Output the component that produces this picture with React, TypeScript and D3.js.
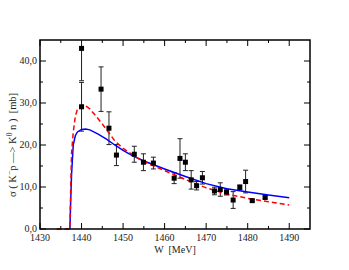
import React from "react";
import * as d3 from "d3";

const W_EXP = [1440, 1440, 1444.7, 1446.6, 1448.4, 1452.7, 1454.9, 1457.3, 1462.3, 1463.7, 1465.0, 1466.4, 1467.7, 1469.1, 1472.0, 1473.4, 1474.9, 1476.5, 1478.1, 1479.5, 1481.1, 1484.2];
const SIG_EXP = [43.0, 29.1, 33.3, 24.0, 17.6, 17.8, 15.9, 15.7, 12.1, 16.8, 15.9, 11.7, 10.3, 12.2, 9.05, 9.4, 8.8, 6.9, 9.9, 11.3, 6.75, 7.5];
const ERR_EXP = [7.7, 5.8, 5.3, 3.9, 2.5, 1.9, 2.0, 1.4, 1.3, 4.7, 2.0, 2.2, 1.0, 1.5, 0.9, 1.6, 0.7, 2.0, 0.6, 2.7, 0.3, 0.3];

const W_BLUE = [1437.2, 1437.4, 1437.6, 1438, 1438.5, 1439, 1440, 1441, 1442, 1444, 1446, 1448, 1450, 1452, 1455, 1460, 1465, 1470, 1475, 1480, 1485, 1490];
const SIG_BLUE = [0, 7, 13, 20, 22.2, 23.1, 23.7, 23.8, 23.6, 22.6, 21.4, 20.0, 18.7, 17.6, 16.2, 14.3, 12.5, 10.8, 9.6, 8.8, 8.1, 7.45];

const W_RED = [1434, 1437.2, 1437.4, 1437.6, 1438, 1438.5, 1439, 1440, 1440.7, 1442, 1443.2, 1445, 1448, 1450, 1452.8, 1455, 1460, 1465, 1470, 1475, 1480, 1485, 1490];
const SIG_RED = [0, 0, 10, 18, 23, 26.8, 28.5, 29.4, 29.5, 28.6, 27.2, 25.0, 21.0, 19.2, 17.3, 16.0, 13.9, 11.8, 9.8, 8.3, 7.3, 6.5, 5.7];

const X_TICKS = [1430, 1440, 1450, 1460, 1470, 1480, 1490];
const Y_TICKS = [0, 10, 20, 30, 40];

export default function App() {
  const L = 40, R = 310, T = 40, B = 229;
  const x = d3.scaleLinear().domain([1430, 1495]).range([L, R]);
  const y = d3.scaleLinear().domain([0, 45]).range([B, T]);
  const line = d3.line<[number, number]>().x(d => x(d[0])).y(d => y(d[1]));
  const blue = line(W_BLUE.map((w, i) => [w, SIG_BLUE[i]] as [number, number])) || "";
  const red = line(W_RED.map((w, i) => [w, SIG_RED[i]] as [number, number])) || "";
  const xMinor = d3.range(1435, 1495, 10);
  const yMinor = d3.range(5, 45, 10);
  const font = "'Liberation Serif', 'DejaVu Serif', serif";
  const fmt = (v: number) => v.toFixed(1).replace(".", ",");
  return (
    <svg width={349} height={270} style={{ position: "absolute", left: 0, top: 0, background: "#fff" }}>
      <defs>
        <clipPath id="plot"><rect x={L} y={T} width={R - L} height={B - T} /></clipPath>
      </defs>
      {X_TICKS.map(t => (
        <g key={"xt" + t}>
          <line x1={x(t)} x2={x(t)} y1={B} y2={B - 6} stroke="#000" strokeWidth={1} />
          <line x1={x(t)} x2={x(t)} y1={T} y2={T + 6} stroke="#000" strokeWidth={1} />
          <text x={x(t)} y={241} textAnchor="middle" fontFamily={font} fontSize={10} fill="#222">{t}</text>
        </g>
      ))}
      {xMinor.map(t => (
        <g key={"xm" + t}>
          <line x1={x(t)} x2={x(t)} y1={B} y2={B - 3} stroke="#000" strokeWidth={1} />
          <line x1={x(t)} x2={x(t)} y1={T} y2={T + 3} stroke="#000" strokeWidth={1} />
        </g>
      ))}
      {Y_TICKS.map(t => (
        <g key={"yt" + t}>
          <line x1={L} x2={L + 6} y1={y(t)} y2={y(t)} stroke="#000" strokeWidth={1} />
          <line x1={R} x2={R - 6} y1={y(t)} y2={y(t)} stroke="#000" strokeWidth={1} />
          <text x={37} y={y(t) + 2.5} textAnchor="end" fontFamily={font} fontSize={10} fill="#222">{fmt(t)}</text>
        </g>
      ))}
      {yMinor.map(t => (
        <g key={"ym" + t}>
          <line x1={L} x2={L + 3} y1={y(t)} y2={y(t)} stroke="#000" strokeWidth={1} />
          <line x1={R} x2={R - 3} y1={y(t)} y2={y(t)} stroke="#000" strokeWidth={1} />
        </g>
      ))}
      <g clipPath="url(#plot)">
        {W_EXP.map((w, i) => {
          const cx = x(w), lo = y(SIG_EXP[i] - ERR_EXP[i]), hi = y(SIG_EXP[i] + ERR_EXP[i]);
          return (
            <g key={"e" + i} stroke="#222" strokeWidth={1}>
              <line x1={cx} x2={cx} y1={lo} y2={hi} />
              <line x1={cx - 2.5} x2={cx + 2.5} y1={lo} y2={lo} />
              <line x1={cx - 2.5} x2={cx + 2.5} y1={hi} y2={hi} />
            </g>
          );
        })}
      </g>
      <path d={blue} fill="none" stroke="#0000ff" strokeWidth={1.5} />
      <path d={red} fill="none" stroke="#ff0000" strokeWidth={1.5} strokeDasharray="5,3" />
      {W_EXP.map((w, i) => (
        <rect key={"s" + i} x={x(w) - 2.5} y={y(SIG_EXP[i]) - 2.5} width={5} height={5} fill="#000" />
      ))}
      <rect x={L} y={T} width={R - L} height={B - T} fill="none" stroke="#000" strokeWidth={1.5} />
      <text x={175} y={253} textAnchor="middle" fontFamily={font} fontSize={10} fill="#222" style={{ whiteSpace: "pre" }}>W  [MeV]</text>
      <text transform="translate(16,145) rotate(-90)" textAnchor="middle" fontFamily={font} fontSize={10.5} fill="#222" style={{ whiteSpace: "pre" }}>
        σ ( K<tspan dy={-4} fontSize={7.5}>−</tspan><tspan dy={4}>p —&gt; K</tspan><tspan dy={-4} fontSize={7.5}>0</tspan><tspan dy={4}> n )  [mb]</tspan>
      </text>
    </svg>
  );
}
